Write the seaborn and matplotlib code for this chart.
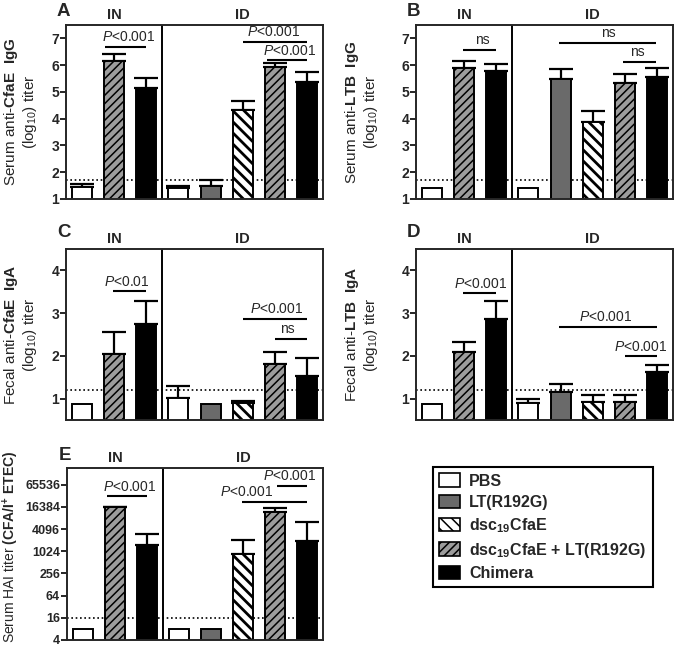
import numpy as np
import pandas as pd
import matplotlib
matplotlib.use("Agg")
import matplotlib.pyplot as plt
import seaborn as sns
from matplotlib.patches import Patch

# groups, in legend order
groups = ["PBS", "LT(R192G)", "dsc19CfaE", "dsc19CfaE + LT(R192G)", "Chimera"]
legend_labels = ["PBS", "LT(R192G)", r"dsc$\mathbf{_{19}}$CfaE",
                 r"dsc$\mathbf{_{19}}$CfaE + LT(R192G)", "Chimera"]

# bar slots: 3 intranasal (IN) + 5 intradermal (ID)
slot_group = ["PBS", "dsc19CfaE + LT(R192G)", "Chimera",
              "PBS", "LT(R192G)", "dsc19CfaE", "dsc19CfaE + LT(R192G)", "Chimera"]

# A: serum anti-CfaE IgG (log10)
a_mean = [1.45, 6.17, 5.14, 1.40, 1.47, 4.33, 5.94, 5.37]
a_upper = [1.57, 6.42, 5.53, 1.47, 1.71, 4.66, 6.07, 5.74]
# B: serum anti-LTB IgG (log10)
b_mean = [1.40, 5.88, 5.77, 1.40, 5.48, 3.88, 5.34, 5.54]
b_upper = [1.40, 6.15, 6.05, 1.40, 5.86, 4.30, 5.68, 5.88]
# C: fecal anti-CfaE IgA (log10)
c_mean = [0.88, 2.04, 2.75, 1.02, 0.88, 0.90, 1.81, 1.53]
c_upper = [0.88, 2.57, 3.29, 1.29, 0.88, 0.95, 2.09, 1.96]
# D: fecal anti-LTB IgA (log10)
d_mean = [0.88, 2.10, 2.86, 0.90, 1.15, 0.92, 0.92, 1.62]
d_upper = [0.88, 2.33, 3.28, 0.98, 1.34, 1.09, 1.08, 1.78]
# E: serum HAI titer
e_mean = [8, 16000, 1500, 8, 8, 880, 11600, 2000]
e_upper = [8, 16700, 3070, 8, 8, 2100, 15500, 6200]
e_ticks = [4, 16, 64, 256, 1024, 4096, 16384, 65536]

styles = {
    "PBS": ("white", "", 1.0),
    "LT(R192G)": ("#6a6a6a", "", 1.0),
    "dsc19CfaE": ("white", "\\\\\\", 2.0),
    "dsc19CfaE + LT(R192G)": ("#9c9c9c", "////", 1.1),
    "Chimera": ("black", "", 1.0),
}

sns.set_style("ticks")
plt.rcParams["font.family"] = ["Liberation Sans", "DejaVu Sans"]
plt.rcParams["mathtext.fontset"] = "custom"
plt.rcParams["mathtext.rm"] = "Liberation Sans"
plt.rcParams["mathtext.it"] = "Liberation Sans:italic"
plt.rcParams["mathtext.bf"] = "Liberation Sans:bold"
plt.rcParams["hatch.linewidth"] = 1.1
plt.rcParams["axes.linewidth"] = 1.4

LW = 1.4
P = r"$\it{P}$<0.001"


def style_patch(patch, g):
    fc, hatch, hlw = styles[g]
    patch.set_facecolor(fc)
    patch.set_hatch(hatch)
    if hasattr(patch, "set_hatch_linewidth"):
        patch.set_hatch_linewidth(hlw)


def draw_panel(ax, mean, upper, lod, sigs, ylabel, labelx):
    df = pd.DataFrame({"slot": list(range(8)), "value": mean})
    sns.barplot(data=df, x="slot", y="value", ax=ax, width=0.62,
                errorbar=None, color="white", edgecolor="black", linewidth=LW)
    for patch, g in zip(ax.patches, slot_group):
        style_patch(patch, g)
        patch.set_zorder(3)

    mean = np.array(mean, dtype=float)
    upper = np.array(upper, dtype=float)
    idx = np.where(upper > mean)[0]
    ax.errorbar(idx, mean[idx], yerr=[np.zeros(len(idx)), upper[idx] - mean[idx]],
                fmt="none", ecolor="black", elinewidth=1.6, capsize=8.5,
                capthick=1.6, zorder=2)

    ax.axvline(2.5, color="black", lw=LW, zorder=4)
    ax.axhline(lod, color="black", lw=1.2, ls=(0, (1, 1.6)), zorder=1)

    for x0, x1, y, txt, xt in sigs:
        ax.plot([x0, x1], [y, y], color="black", lw=1.5, solid_capstyle="butt")
        ax.annotate(txt, (xt, y), xytext=(0, 2), textcoords="offset points",
                    ha="center", va="bottom", fontsize=10)

    tr = ax.get_xaxis_transform()
    ax.text(1, 1.02, "IN", transform=tr, ha="center", va="bottom",
            fontsize=10.5, fontweight="bold")
    ax.text(5, 1.02, "ID", transform=tr, ha="center", va="bottom",
            fontsize=10.5, fontweight="bold")

    ax.set_xlim(-0.5, 7.5)
    ax.set_xticks([])
    ax.set_xlabel("")
    ax.set_ylabel(ylabel, fontsize=11, linespacing=1.05)
    ax.yaxis.set_label_coords(labelx, 0.5)
    ax.tick_params(axis="y", length=4, width=LW, pad=1, labelsize=10)
    for s in ax.spines.values():
        s.set_linewidth(LW)
        s.set_zorder(5)


def bold_ticks(ax, size=None):
    for lab in ax.get_yticklabels():
        lab.set_fontweight("bold")
        if size:
            lab.set_fontsize(size)


fig = plt.figure(figsize=(6.75, 6.65), dpi=100)
W, H = 675, 665


def add_axes(l, r, t, b):
    return fig.add_axes([l / W, 1 - b / H, (r - l) / W, (b - t) / H])


axA = add_axes(66, 323, 25, 199)
axB = add_axes(416, 673, 25, 199)
axC = add_axes(66, 323, 249, 420)
axD = add_axes(416, 673, 249, 420)
axE = add_axes(67, 323, 468, 640)

draw_panel(axA, a_mean, a_upper, 1.7,
           [(0.7, 2.0, 6.68, P, 1.45), (5.0, 7.0, 6.87, P, 5.98),
            (5.76, 7.0, 6.18, P, 6.46)],
           "Serum anti-$\\mathbf{CfaE}$  $\\mathbf{IgG}$\n(log$_{10}$) titer", -0.105)
axA.set_ylim(1, 7.5)
axA.set_yticks(range(1, 8))
bold_ticks(axA)

draw_panel(axB, b_mean, b_upper, 1.7,
           [(0.96, 2.0, 6.58, "ns", 1.56), (3.96, 6.98, 6.84, "ns", 5.5),
            (5.95, 6.98, 6.12, "ns", 6.38)],
           "Serum anti-$\\mathbf{LTB}$  $\\mathbf{IgG}$\n(log$_{10}$) titer", -0.14)
axB.set_ylim(1, 7.5)
axB.set_yticks(range(1, 8))
bold_ticks(axB)

draw_panel(axC, c_mean, c_upper, 1.2,
           [(0.96, 2.0, 3.51, r"$\it{P}$<0.01", 1.4), (5.0, 7.0, 2.86, P, 6.07),
            (6.0, 7.0, 2.40, "ns", 6.4)],
           "Fecal anti-$\\mathbf{CfaE}$  $\\mathbf{IgA}$\n(log$_{10}$) titer", -0.105)
axC.set_ylim(0.5, 4.5)
axC.set_yticks(range(1, 5))
bold_ticks(axC)

draw_panel(axD, d_mean, d_upper, 1.2,
           [(0.96, 2.0, 3.46, P, 1.5), (3.96, 7.0, 2.67, P, 5.4),
            (6.0, 7.0, 1.99, P, 6.5)],
           "Fecal anti-$\\mathbf{LTB}$  $\\mathbf{IgA}$\n(log$_{10}$) titer", -0.14)
axD.set_ylim(0.5, 4.5)
axD.set_yticks(range(1, 5))
bold_ticks(axD)

draw_panel(axE, e_mean, e_upper, 16,
           [(0.75, 2.0, 2 ** 14.95, P, 1.45), (4.97, 7.0, 2 ** 14.44, P, 5.12),
            (6.05, 7.0, 2 ** 15.86, P, 6.47)],
           r"Serum HAI titer $\mathbf{(CFA/I^{+}\ ETEC)}$", -0.18)
axE.set_yscale("log", base=2)
axE.set_ylim(4, 2 ** 17.5)
axE.set_yticks(e_ticks)
axE.set_yticklabels([str(t) for t in e_ticks])
axE.minorticks_off()
axE.yaxis.label.set_fontsize(10)
axE.yaxis.set_label_coords(-0.18, 0.54)
bold_ticks(axE, size=9)

for letter, x, y in [("A", 57, 3), ("B", 407, 3), ("C", 57, 224),
                     ("D", 407, 224), ("E", 59, 447)]:
    fig.text(x / W, 1 - y / H, letter, fontsize=13.5, fontweight="bold",
             ha="left", va="top")

handles = []
for g in groups:
    h = Patch(edgecolor="black", linewidth=1.2)
    style_patch(h, g)
    handles.append(h)
leg = fig.legend(handles, legend_labels, loc="upper left",
                 bbox_to_anchor=(433 / W, 1 - 467 / H), frameon=True,
                 fancybox=False, edgecolor="black", framealpha=1,
                 prop={"weight": "bold", "size": 11.5}, handlelength=1.3,
                 handleheight=0.9, handletextpad=0.55, labelspacing=0.38,
                 borderpad=0.4, borderaxespad=0)
leg.get_frame().set_linewidth(1.5)

fig.savefig("out.png", dpi=100)
